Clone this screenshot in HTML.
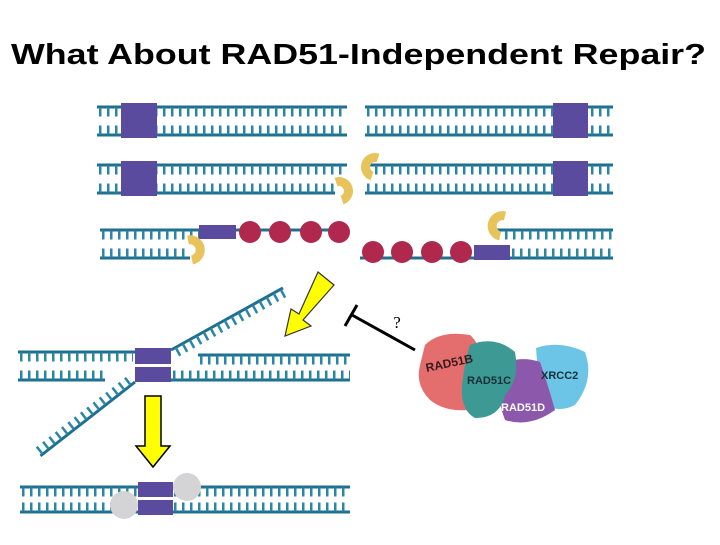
<!DOCTYPE html>
<html><head><meta charset="utf-8"><style>
body{margin:0;background:#fff;width:720px;height:540px;overflow:hidden}
</style></head><body>
<svg width="720" height="540" viewBox="0 0 720 540" xmlns="http://www.w3.org/2000/svg" font-family="Liberation Sans, sans-serif">
<defs>
<style>
.bb{stroke:#1f6f8f;stroke-width:3}
.tk{stroke:#2a86a8;stroke-width:9;stroke-dasharray:2.5 5.5}
.pu{fill:#5b4b9e}
.rd{fill:#b0284e}
.ye{fill:none;stroke:#e8c25a;stroke-width:9}
</style>
</defs>
<text x="11" y="64" font-size="29" font-weight="bold" fill="#000" textLength="695" lengthAdjust="spacingAndGlyphs">What About RAD51-Independent Repair?</text>

<!-- Row 1 -->
<g>
<line class="bb" x1="97" y1="107" x2="347" y2="107"/><line class="tk" x1="99" y1="112" x2="347" y2="112"/>
<line class="bb" x1="97" y1="135" x2="347" y2="135"/><line class="tk" x1="99" y1="130" x2="347" y2="130"/>
<rect class="pu" x="121" y="103" width="36" height="35"/>
<line class="bb" x1="365" y1="107" x2="613" y2="107"/><line class="tk" x1="367" y1="112" x2="613" y2="112"/>
<line class="bb" x1="365" y1="135" x2="613" y2="135"/><line class="tk" x1="367" y1="130" x2="613" y2="130"/>
<rect class="pu" x="553" y="103" width="35" height="35"/>
</g>
<!-- Row 2 -->
<g>
<line class="bb" x1="97" y1="165" x2="347" y2="165"/><line class="tk" x1="99" y1="170" x2="347" y2="170"/>
<line class="bb" x1="97" y1="193" x2="335" y2="193"/><line class="tk" x1="99" y1="188" x2="335" y2="188"/>
<rect class="pu" x="121" y="161" width="36" height="35"/>
<line class="bb" x1="365" y1="165" x2="613" y2="165"/><line class="tk" x1="375" y1="170" x2="613" y2="170"/>
<line class="bb" x1="365" y1="193" x2="613" y2="193"/><line class="tk" x1="367" y1="188" x2="613" y2="188"/>
<rect class="pu" x="553" y="161" width="35" height="35"/>
<path class="ye" d="M336 182 A9 9 0 1 1 342 200"/>
<path class="ye" d="M378 158 A9 9 0 1 0 372 176"/>
</g>
<!-- Row 3 -->
<g>
<line class="bb" x1="100" y1="230" x2="345" y2="230"/><line class="tk" x1="102" y1="235" x2="200" y2="235"/>
<line class="bb" x1="100" y1="258" x2="190" y2="258"/><line class="tk" x1="102" y1="253" x2="188" y2="253"/>
<rect class="pu" x="199" y="225" width="37" height="14"/>
<circle class="rd" cx="250" cy="232" r="11"/><circle class="rd" cx="280" cy="232" r="11"/>
<circle class="rd" cx="311" cy="232" r="11"/><circle class="rd" cx="339" cy="232" r="11"/>
<path class="ye" d="M188 240 A9 9 0 1 1 192 260"/>
<line class="bb" x1="495" y1="230" x2="613" y2="230"/><line class="tk" x1="497" y1="235" x2="613" y2="235"/>
<line class="bb" x1="360" y1="258" x2="613" y2="258"/><line class="tk" x1="512" y1="253" x2="613" y2="253"/>
<rect class="pu" x="474" y="245" width="36" height="15"/>
<circle class="rd" cx="373" cy="252" r="11"/><circle class="rd" cx="402" cy="252" r="11"/>
<circle class="rd" cx="432" cy="252" r="11"/><circle class="rd" cx="461" cy="252" r="11"/>
<path class="ye" d="M505 216 A9 9 0 1 0 500 236"/>
</g>

<!-- Bottom left complex -->
<g>
<line class="bb" x1="18" y1="352" x2="135" y2="352"/><line class="tk" x1="20" y1="357" x2="133" y2="357"/>
<line class="bb" x1="18" y1="380" x2="105" y2="380"/><line class="tk" x1="20" y1="375" x2="105" y2="375"/>
<line class="bb" x1="198" y1="355" x2="350" y2="355"/><line class="tk" x1="200" y1="360" x2="350" y2="360"/>
<line class="bb" x1="171" y1="380" x2="350" y2="380"/><line class="tk" x1="173" y1="375" x2="350" y2="375"/>
<g transform="translate(171,350) rotate(-29)">
<line class="bb" x1="0" y1="0" x2="128" y2="0"/><line class="tk" x1="4" y1="5" x2="128" y2="5"/>
</g>
<g transform="translate(135,382) rotate(142)">
<line class="bb" x1="0" y1="0" x2="120" y2="0"/><line class="tk" x1="4" y1="5" x2="120" y2="5"/>
</g>
<rect class="pu" x="135" y="348" width="36" height="16"/>
<rect class="pu" x="135" y="367" width="36" height="15"/>
</g>

<!-- arrows -->
<polygon points="318,272 334,285 303,320 311,326 285,336 291,309 299,314" fill="#ffff00" stroke="#333" stroke-width="1.2"/>
<polygon points="145,396 161,396 161,446 170,446 153,467 136,446 145,446" fill="#ffff00" stroke="#000" stroke-width="1.5"/>

<!-- bottom row -->
<g>
<line class="bb" x1="20" y1="487" x2="350" y2="487"/><line class="tk" x1="22" y1="492" x2="350" y2="492"/>
<line class="bb" x1="20" y1="512" x2="350" y2="512"/><line class="tk" x1="22" y1="507" x2="350" y2="507"/>
<rect class="pu" x="138" y="482" width="35" height="15"/>
<rect class="pu" x="138" y="500" width="35" height="15"/>
<circle cx="124" cy="505" r="14" fill="#d4d4d6"/>
<circle cx="187" cy="487" r="14" fill="#d4d4d6"/>
</g>

<!-- inhibition -->
<line x1="352" y1="315" x2="415" y2="350" stroke="#000" stroke-width="3"/>
<line x1="345" y1="326" x2="357" y2="305" stroke="#000" stroke-width="3"/>
<text x="397" y="328" text-anchor="middle" font-size="17" font-family="Liberation Serif, serif">?</text>

<!-- protein complex -->
<g>
<path d="M425 345 Q440 330 470 335 Q482 345 478 365 L468 410 Q445 412 430 400 Q415 385 420 365 Z" fill="#e46e6e"/>
<path d="M536 348 Q560 340 585 352 Q595 380 575 405 Q555 415 540 400 Z" fill="#6cc4e6"/>
<path d="M500 365 Q520 355 540 362 Q548 385 555 410 Q530 428 505 420 Q495 395 500 365 Z" fill="#8b58ab"/>
<path d="M470 345 Q495 335 515 352 Q520 380 505 395 Q500 418 475 418 Q460 410 462 385 Q465 360 470 345 Z" fill="#3d9994"/>
<text x="425" y="368" font-size="12" font-weight="bold" fill="#3a1a1a" transform="rotate(-12 445 362)">RAD51B</text>
<text x="467" y="384" font-size="11" font-weight="bold" fill="#15303a">RAD51C</text>
<text x="541" y="379" font-size="11" font-weight="bold" fill="#15303a">XRCC2</text>
<text x="501" y="411" font-size="11" font-weight="bold" fill="#fff">RAD51D</text>
</g>
</svg>
</body></html>
